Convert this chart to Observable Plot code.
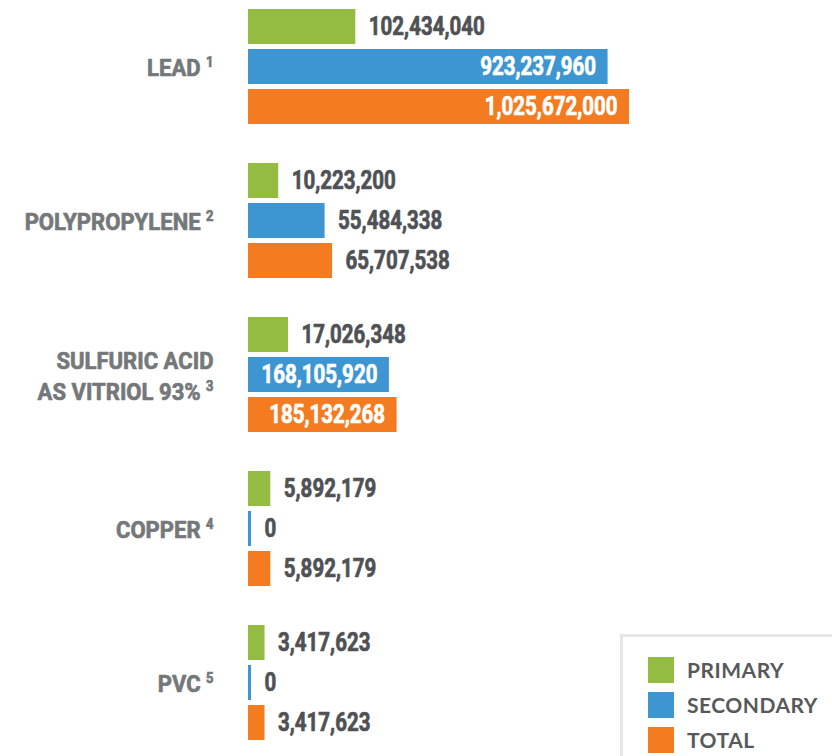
<!DOCTYPE html>
<html>
<head>
<meta charset="utf-8">
<script src="https://cdn.jsdelivr.net/npm/d3@7"></script>
<script src="https://cdn.jsdelivr.net/npm/@observablehq/plot@0.6"></script>
<style>
  html, body { margin: 0; padding: 0; background: #fff; }
  #wrap { position: relative; width: 832px; height: 756px; overflow: hidden; }
  #legend { position: absolute; left: 620px; top: 634px; width: 240px; height: 150px;
            border: 3px solid #e6e6e6; background: #fff; box-sizing: border-box; }
  .item { position: absolute; left: 25px; height: 26px; display: flex; align-items: center; }
  .sw { width: 26px; height: 26px; }
  .lab { margin-left: 13px; font-family: Lato, "Open Sans", sans-serif; font-weight: 700;
         font-size: 21px; color: #58595b; line-height: 26px; letter-spacing: 0.5px; }
</style>
</head>
<body>
<div id="wrap"><div id="chart"></div><div id="legend"></div></div>
<script>
// ---- data ----
const categories = ["LEAD", "POLYPROPYLENE", "SULFURIC ACID\nAS VITRIOL 93%", "COPPER", "PVC"];
const notes = ["1", "2", "3", "4", "5"];
const series = ["PRIMARY", "SECONDARY", "TOTAL"];
const primary = [102434040, 10223200, 17026348, 5892179, 3417623];
const secondary = [923237960, 55484338, 168105920, 0, 0];
const total = [1025672000, 65707538, 185132268, 5892179, 3417623];
const colors = ["#94bc42", "#3d96d2", "#f47b20"];

const valuesBySeries = [primary, secondary, total];
const data = categories.flatMap((c, i) =>
  series.map((s, j) => ({category: c, series: s, value: valuesBySeries[j][i]})));

const fmt = d3.format(",");
const font = "Roboto, 'Liberation Sans', sans-serif";
const insideMin = 150e6;
const valueInk = "#4f5155";
const labelInk = "#75787a";

const chart = Plot.plot({
  width: 832,
  height: 756,
  marginLeft: 248,
  marginRight: 203,
  marginTop: 7,
  marginBottom: 15,
  style: {fontFamily: font, fontWeight: "bold", background: "transparent"},
  x: {type: "pow", exponent: 0.55, domain: [0, d3.max(total)], axis: null},
  y: {domain: series, paddingInner: 0.136, paddingOuter: 0, axis: null},
  fy: {domain: categories, paddingInner: 0.249, paddingOuter: 0, axis: null},
  color: {domain: series, range: colors},
  marks: [
    Plot.barX(data.filter(d => d.value > 0), {x1: 0, x2: "value", y: "series", fy: "category", fill: "series"}),
    Plot.barX(data.filter(d => d.value === 0), {x1: 0, x2: "value", y: "series", fy: "category", fill: "series", insetRight: -3}),
    Plot.text(data.filter(d => d.value > 0 && d.value < insideMin), {
      x: "value", y: "series", fy: "category", text: d => fmt(d.value),
      textAnchor: "start", dx: 13, fill: valueInk, stroke: valueInk, strokeWidth: 0.7, fontSize: 25
    }),
    Plot.text(data.filter(d => d.value === 0), {
      x: "value", y: "series", fy: "category", text: d => fmt(d.value),
      textAnchor: "start", dx: 16, fill: valueInk, stroke: valueInk, strokeWidth: 0.7, fontSize: 25
    }),
    Plot.text(data.filter(d => d.value >= insideMin), {
      x: "value", y: "series", fy: "category", text: d => fmt(d.value),
      textAnchor: "end", dx: -12, fill: "#ffffff", stroke: "#ffffff", strokeWidth: 0.7, fontSize: 25
    }),
    Plot.text(categories, {
      fy: d => d, text: d => d, frameAnchor: "left", dx: -35, textAnchor: "end",
      fontSize: 24, fill: labelInk, stroke: labelInk, strokeWidth: 0.7, lineHeight: 1.29
    })
  ]
});
document.getElementById("chart").appendChild(chart);

// condense the text horizontally (the original uses a condensed display face)
const keyOf = categories.map(c => c.replace(/\n/g, ""));
function condense(t, s) {
  const tr = t.getAttribute("transform") || "";
  t.setAttribute("transform", `${tr} scale(${s},1)`);
}
chart.querySelectorAll("text").forEach(t => {
  const idx = keyOf.indexOf(t.textContent);
  if (idx >= 0) {
    // category label: add superscript footnote marker
    const spans = t.querySelectorAll("tspan");
    const host = spans.length ? spans[spans.length - 1] : t;
    host.appendChild(document.createTextNode("\u00a0"));
    const sup = document.createElementNS("http://www.w3.org/2000/svg", "tspan");
    sup.setAttribute("font-size", "14");
    sup.setAttribute("dy", "-9");
    sup.textContent = notes[idx];
    host.appendChild(sup);
    condense(t, 0.92);
  } else {
    condense(t, 0.82);
  }
});

// legend
const legend = document.getElementById("legend");
series.forEach((s, i) => {
  const item = document.createElement("div");
  item.className = "item";
  item.style.top = (20 + i * 35) + "px";
  const sw = document.createElement("div");
  sw.className = "sw";
  sw.style.background = colors[i];
  const lab = document.createElement("div");
  lab.className = "lab";
  lab.textContent = s;
  item.appendChild(sw);
  item.appendChild(lab);
  legend.appendChild(item);
});
</script>
</body>
</html>
